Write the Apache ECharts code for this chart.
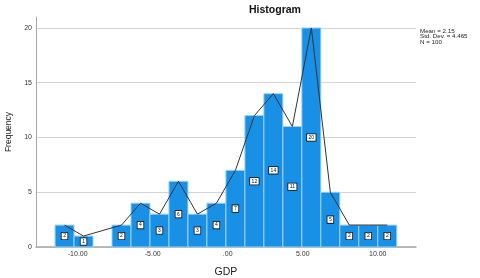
<!DOCTYPE html>
<html><head><meta charset="utf-8">
<script src="https://cdn.jsdelivr.net/npm/echarts@6/dist/echarts.min.js"></script>
<style>html,body{margin:0;padding:0;background:#fff}#c{width:480px;height:278px}</style>
</head><body><div id="c"></div>
<script>
const binStart = -11.51;
const binWidth = 1.2655;
const counts = [2, 1, 0, 2, 4, 3, 6, 3, 4, 7, 12, 14, 11, 20, 5, 2, 2, 2];
const xTickValues = [-10, -5, 0, 5, 10];
const xTickLabels = ['-10.00', '-5.00', '.00', '5.00', '10.00'];
const yTickValues = [0, 5, 10, 15, 20];
const statsLines = ['Mean = 2.15', 'Std. Dev. = 4.465', 'N = 100'];

const bins = counts.map((c, i) => [binStart + i * binWidth, binStart + (i + 1) * binWidth, c]);
const poly = bins.filter(b => b[2] > 0).map(b => [(b[0] + b[1]) / 2, b[2]]);

const chart = echarts.init(document.getElementById('c'));
const FONT = 'Liberation Sans, Arial, sans-serif';
chart.setOption({
  animation: false,
  title: {
    text: 'Histogram', left: 249, top: 5, padding: 0,
    textStyle: {fontFamily: FONT, fontSize: 10.5, fontWeight: 'bold', color: '#111'}
  },
  graphic: [{
    type: 'text', left: 420, top: 28,
    style: {text: statsLines.join('\n'), fontFamily: FONT, fontSize: 6.2, lineHeight: 5.4, fill: '#222'}
  }],
  grid: {left: 36, right: 64, top: 17, bottom: 31, outerBoundsMode: 'none', containLabel: false},
  xAxis: {
    type: 'value', min: -12.78, max: 12.55,
    name: 'GDP', nameLocation: 'middle', nameGap: 20,
    nameTextStyle: {fontFamily: FONT, fontSize: 10.5, color: '#222'},
    axisLine: {show: true, onZero: false, lineStyle: {color: '#a8a8a8', width: 1.5}},
    axisTick: {show: false, customValues: xTickValues},
    splitLine: {show: false},
    axisLabel: {
      customValues: xTickValues, margin: 4,
      fontFamily: FONT, fontSize: 7, color: '#333',
      formatter: v => xTickLabels[xTickValues.indexOf(v)]
    }
  },
  yAxis: {
    type: 'value', min: 0, max: 21,
    name: 'Frequency', nameLocation: 'middle', nameGap: 18, nameRotate: 90,
    nameTextStyle: {fontFamily: FONT, fontSize: 8.5, color: '#222'},
    axisLine: {show: true, onZero: false, lineStyle: {color: '#a8a8a8', width: 1}},
    axisTick: {show: false, customValues: yTickValues},
    splitLine: {show: true, lineStyle: {color: '#d4d4d4', width: 1}},
    axisLabel: {customValues: yTickValues, margin: 4, fontFamily: FONT, fontSize: 7, color: '#333'}
  },
  series: [{
    type: 'custom',
    data: bins,
    encode: {x: [0, 1], y: 2},
    renderItem: (params, api) => {
      const c = api.value(2);
      if (!c) return null;
      const p0 = api.coord([api.value(0), c]);
      const p1 = api.coord([api.value(1), 0]);
      return {
        type: 'group',
        children: [{
          type: 'rect',
          shape: {x: p0[0], y: p0[1], width: p1[0] - p0[0], height: p1[1] - p0[1]},
          style: {fill: '#1890e6', stroke: '#9fd0f5', lineWidth: 1}
        }, {
          type: 'text',
          z2: 10,
          style: {
            text: String(c), x: (p0[0] + p1[0]) / 2, y: (p0[1] + p1[1]) / 2,
            align: 'center', verticalAlign: 'middle',
            fontFamily: FONT, fontSize: 5, fill: '#111',
            backgroundColor: '#fff', borderColor: '#111', borderWidth: 0.8,
            padding: [1, 1.5, 0.5, 1.5]
          }
        }]
      };
    },
    z: 2
  }, {
    type: 'line',
    data: poly,
    symbol: 'none',
    lineStyle: {color: '#333', width: 1},
    z: 3
  }]
});
</script></body></html>
